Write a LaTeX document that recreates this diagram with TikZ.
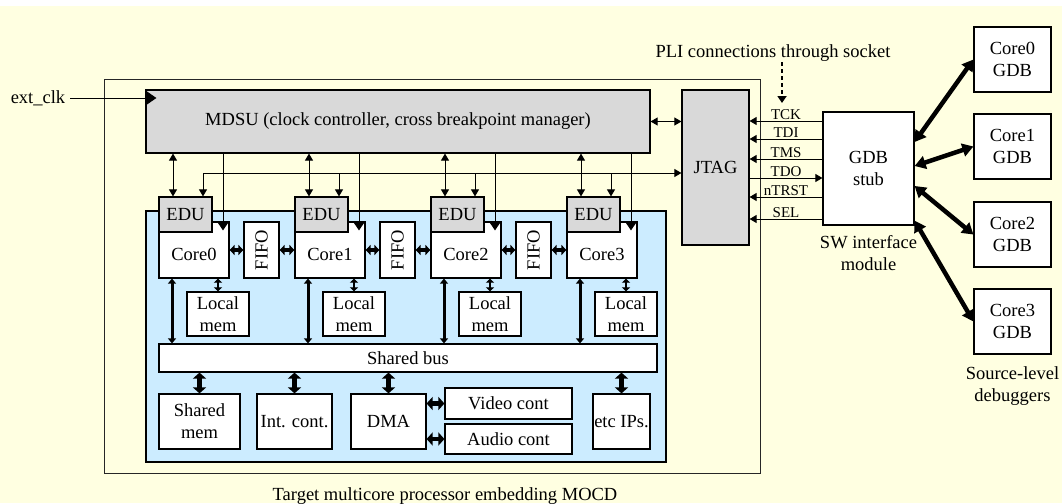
\documentclass[tikz,border=0pt]{standalone}
\usepackage{fontspec}
\setmainfont{Liberation Serif}
\usetikzlibrary{arrows.meta,positioning}
\definecolor{paper}{HTML}{FFFFE1}
\definecolor{chip}{HTML}{CCECFF}
\definecolor{unit}{HTML}{D9D9D9}
\begin{document}
\begin{tikzpicture}[x=1pt, y=-1pt, font=\fontsize{18.5}{22}\selectfont,
  box/.style={draw, line width=1.2pt, fill=white, inner sep=1pt, align=center},
  grey/.style={box, fill=unit},
  txt/.style={inner sep=1pt, align=center},
  sigtext/.style={inner sep=0.5pt, font=\fontsize{15}{17}\selectfont},
  sig/.style={line width=1pt, -{Triangle[length=7pt,width=8pt]}},
  sigboth/.style={line width=1pt, {Triangle[length=7pt,width=8pt]}-{Triangle[length=7pt,width=8pt]}},
  clk/.style={line width=1pt, -{Triangle[length=9pt,width=12pt]}},
  link/.style={line width=3.5pt, {Triangle[length=5pt,width=10pt]}-{Triangle[length=5pt,width=10pt]}},
  memlink/.style={line width=2.5pt, {Triangle[length=4pt,width=8pt]}-{Triangle[length=4pt,width=8pt]}},
  buslink/.style={line width=3pt, {Triangle[length=5pt,width=8pt]}-{Triangle[length=5pt,width=8pt]}},
  fat/.style={line width=4.5pt, {Triangle[length=6pt,width=13pt]}-{Triangle[length=6pt,width=13pt]}},
  gdblink/.style={line width=4.5pt, {Triangle[length=11pt,width=13pt]}-{Triangle[length=11pt,width=13pt]}}]
  \useasboundingbox (0,0) rectangle (1062,503);
  \fill[white] (0,0) rectangle (1062,503);
  \fill[paper] (0,6) rectangle (1062,503);

  % target processor
  \node[draw, line width=1pt, black!85, minimum width=656pt, minimum height=394pt] (target) at (432,276) {};
  \node[txt, anchor=base] (caption) at (445,500) {Target multicore processor embedding MOCD};
  \node[draw, line width=1.2pt, fill=chip, minimum width=520pt, minimum height=251pt] (chiparea) at (406,336.5) {};

  \node[grey, minimum width=504pt, minimum height=63pt] (mdsu) at (398,121.5) {MDSU (clock controller, cross breakpoint manager)};
  \node[grey, minimum width=67pt, minimum height=155pt] (jtag) at (715.5,167.5) {JTAG};
  \node[txt, inner xsep=5pt] (extclk) at (38,98) {ext\_clk};

  % cores
  \node[box, minimum width=70pt, minimum height=56pt, label={[yshift=-4pt]center:Core0}] (core0) at (194,250) {};
  \node[box, minimum width=70pt, minimum height=56pt, label={[yshift=-4pt]center:Core1}] (core1) at (330,250) {};
  \node[box, minimum width=70pt, minimum height=56pt, label={[yshift=-4pt]center:Core2}] (core2) at (466,250) {};
  \node[box, minimum width=70pt, minimum height=56pt, label={[yshift=-4pt]center:Core3}] (core3) at (602,250) {};
  \node[grey, minimum width=53pt, minimum height=35pt] (edu0) at (185.5,214.5) {EDU};
  \node[grey, minimum width=53pt, minimum height=35pt] (edu1) at (321.5,214.5) {EDU};
  \node[grey, minimum width=53pt, minimum height=35pt] (edu2) at (457.5,214.5) {EDU};
  \node[grey, minimum width=53pt, minimum height=35pt] (edu3) at (593.5,214.5) {EDU};
  \node[box, minimum width=35pt, minimum height=56pt] (fifo0) at (261.5,250) {\rotatebox{90}{FIFO}};
  \node[box, minimum width=35pt, minimum height=56pt] (fifo1) at (397.5,250) {\rotatebox{90}{FIFO}};
  \node[box, minimum width=35pt, minimum height=56pt] (fifo2) at (533.5,250) {\rotatebox{90}{FIFO}};
  \node[box, minimum width=62pt, minimum height=44pt] (lmem0) at (218,314) {Local\\mem};
  \node[box, minimum width=62pt, minimum height=44pt] (lmem1) at (354,314) {Local\\mem};
  \node[box, minimum width=62pt, minimum height=44pt] (lmem2) at (490,314) {Local\\mem};
  \node[box, minimum width=62pt, minimum height=44pt] (lmem3) at (626,314) {Local\\mem};

  % shared bus and peripherals
  \node[box, minimum width=498pt, minimum height=28pt] (bus) at (408,358) {Shared bus};
  \node[box, minimum width=81pt, minimum height=55pt] (smem) at (199.5,421.5) {Shared\\mem};
  \node[box, minimum width=75pt, minimum height=55pt] (intc) at (294.5,421.5) {Int. cont.};
  \node[box, minimum width=75pt, minimum height=55pt] (dma) at (388.5,421.5) {DMA};
  \node[box, minimum width=127pt, minimum height=31pt] (video) at (508.5,403.5) {Video cont};
  \node[box, minimum width=127pt, minimum height=30pt] (audio) at (508.5,439) {Audio cont};
  \node[box, minimum width=57pt, minimum height=55pt] (etcip) at (621.5,421.5) {etc IPs.};

  % software side
  \node[box, minimum width=91pt, minimum height=113pt] (gdbstub) at (868.5,168.5) {GDB\\stub};
  \node[txt, below=9pt of gdbstub] (swif) {SW interface\\module};
  \node[txt, anchor=base] (pli) at (773,57) {PLI connections through socket};
  \coordinate (socket) at (782,103);
  \node[box, minimum width=77pt, minimum height=65pt] (gdb0) at (1012.5,59.5) {Core0\\GDB};
  \node[box, minimum width=77pt, minimum height=65pt] (gdb1) at (1012.5,146.5) {Core1\\GDB};
  \node[box, minimum width=77pt, minimum height=65pt] (gdb2) at (1012.5,234.5) {Core2\\GDB};
  \node[box, minimum width=77pt, minimum height=65pt] (gdb3) at (1012.5,321.5) {Core3\\GDB};
  \node[txt, below=11pt of gdb3] (debuggers) {Source-level\\debuggers};

  % clock and debug control
  \coordinate (tapline) at (0,173);
  \draw[line width=1pt, -{Triangle[length=11pt,width=15pt]}] (extclk.east) -- ([xshift=11pt]mdsu.west |- extclk.east);
  \draw[sigboth] (mdsu.east) -- (mdsu.east -| jtag.west);
  \draw[sigboth] ([xshift=17.5pt]edu0.north) |- (jtag.west |- tapline);
  \draw[sig] ([xshift=17.5pt]edu1.north |- tapline) -- ([xshift=17.5pt]edu1.north);
  \draw[sig] ([xshift=17.5pt]edu2.north |- tapline) -- ([xshift=17.5pt]edu2.north);
  \draw[sig] ([xshift=17.5pt]edu3.north |- tapline) -- ([xshift=17.5pt]edu3.north);
  \draw[sigboth] ([xshift=-12.5pt]edu0.north |- mdsu.south) -- ([xshift=-12.5pt]edu0.north);
  \draw[sigboth] ([xshift=-12.5pt]edu1.north |- mdsu.south) -- ([xshift=-12.5pt]edu1.north);
  \draw[sigboth] ([xshift=-12.5pt]edu2.north |- mdsu.south) -- ([xshift=-12.5pt]edu2.north);
  \draw[sigboth] ([xshift=-12.5pt]edu3.north |- mdsu.south) -- ([xshift=-12.5pt]edu3.north);
  \draw[clk] ([xshift=29pt]core0.north |- mdsu.south) -- ([xshift=29pt,yshift=-9pt]core0.north);
  \draw[clk] ([xshift=29pt]core1.north |- mdsu.south) -- ([xshift=29pt,yshift=-9pt]core1.north);
  \draw[clk] ([xshift=29pt]core2.north |- mdsu.south) -- ([xshift=29pt,yshift=-9pt]core2.north);
  \draw[clk] ([xshift=29pt]core3.north |- mdsu.south) -- ([xshift=29pt,yshift=-9pt]core3.north);

  % on-chip links
  \draw[link] (core0.east) -- (fifo0.west);
  \draw[link] (fifo0.east) -- (core1.west);
  \draw[link] (core1.east) -- (fifo1.west);
  \draw[link] (fifo1.east) -- (core2.west);
  \draw[link] (core2.east) -- (fifo2.west);
  \draw[link] (fifo2.east) -- (core3.west);
  \draw[memlink] (lmem0.north |- core0.south) -- (lmem0.north);
  \draw[memlink] (lmem1.north |- core1.south) -- (lmem1.north);
  \draw[memlink] (lmem2.north |- core2.south) -- (lmem2.north);
  \draw[memlink] (lmem3.north |- core3.south) -- (lmem3.north);
  \draw[buslink] ([xshift=-22pt]core0.south) -- ([xshift=-22pt]core0.south |- bus.north);
  \draw[buslink] ([xshift=-22pt]core1.south) -- ([xshift=-22pt]core1.south |- bus.north);
  \draw[buslink] ([xshift=-22pt]core2.south) -- ([xshift=-22pt]core2.south |- bus.north);
  \draw[buslink] ([xshift=-22pt]core3.south) -- ([xshift=-22pt]core3.south |- bus.north);
  \draw[fat] (bus.south -| smem.north) -- (smem.north);
  \draw[fat] (bus.south -| intc.north) -- (intc.north);
  \draw[fat] (bus.south -| dma.north) -- (dma.north);
  \draw[fat] (bus.south -| etcip.north) -- (etcip.north);
  \draw[fat] (video.west -| dma.east) -- (video.west);
  \draw[fat] (audio.west -| dma.east) -- (audio.west);

  % JTAG signals
  \draw[line width=2pt, dash pattern=on 4pt off 3pt, -{Triangle[length=7pt,width=9pt]}] (pli.south -| socket) -- (socket);
  \draw[sig] ([yshift=47.5pt]gdbstub.west) -- ([yshift=47.5pt]gdbstub.west -| jtag.east) node[midway, above, sigtext] {TCK};
  \draw[sig] ([yshift=29.5pt]gdbstub.west) -- ([yshift=29.5pt]gdbstub.west -| jtag.east) node[midway, above, sigtext] {TDI};
  \draw[sig] ([yshift=9.5pt]gdbstub.west) -- ([yshift=9.5pt]gdbstub.west -| jtag.east) node[midway, above, sigtext] {TMS};
  \draw[sig] ([yshift=-9.5pt]gdbstub.west -| jtag.east) -- ([yshift=-9.5pt]gdbstub.west) node[midway, above, sigtext] {TDO};
  \draw[sig] ([yshift=-28.5pt]gdbstub.west) -- ([yshift=-28.5pt]gdbstub.west -| jtag.east) node[midway, above, sigtext] {nTRST};
  \draw[sig] ([yshift=-50.5pt]gdbstub.west) -- ([yshift=-50.5pt]gdbstub.west -| jtag.east) node[midway, above, sigtext] {SEL};

  % debugger links
  \draw[gdblink] ([yshift=26.5pt]gdbstub.east) -- (gdb0.west);
  \draw[gdblink] ([yshift=2.5pt]gdbstub.east) -- (gdb1.west);
  \draw[gdblink] ([yshift=-17.5pt]gdbstub.east) -- (gdb2.west);
  \draw[gdblink] ([yshift=5pt]gdbstub.south east) -- (gdb3.west);
\end{tikzpicture}
\end{document}
